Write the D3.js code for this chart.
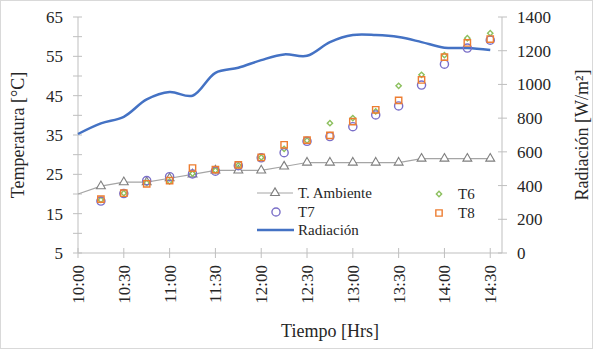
<!DOCTYPE html>
<html>
<head>
<meta charset="utf-8">
<script src="https://d3js.org/d3.v7.min.js"></script>
<style>
  body { margin: 0; background: #fff; }
  svg text { font-family: "Liberation Serif", "Times New Roman", "DejaVu Serif", serif !important; }
</style>
</head>
<body>
<div id="chart"></div>
<script>
// Data
var times = ["10:15","10:30","10:45","11:00","11:15","11:30","11:45","12:00","12:15",
             "12:30","12:45","13:00","13:15","13:30","13:45","14:00","14:15","14:30"];
var ambTimes = ["10:00"].concat(times);
var ambiente = [20, 22, 23, 23, 24, 25, 26, 26, 26, 27, 28, 28, 28, 28, 28, 29, 29, 29, 29];
var t6 = [18.5, 20.2, 22.8, 23.2, 25.2, 26.0, 27.3, 29.3, 31.5, 33.6, 38.0, 39.3, 41.0, 47.5, 50.3, 55.3, 59.6, 60.9];
var t7 = [18.2, 20.1, 23.4, 24.4, 25.1, 25.8, 27.2, 29.2, 30.5, 33.4, 34.6, 37.1, 40.1, 42.4, 47.7, 53.0, 57.1, 59.1];
var t8 = [18.7, 20.2, 22.6, 23.4, 26.6, 26.2, 27.4, 29.3, 32.5, 33.7, 34.9, 38.4, 41.4, 43.8, 49.0, 54.8, 58.4, 59.4];
var radiacion = [706, 769, 808, 911, 955, 933, 1069, 1099, 1144, 1178, 1170, 1251, 1293, 1293, 1281, 1251, 1218, 1216, 1204];
var xTicks = ["10:00","10:30","11:00","11:30","12:00","12:30","13:00","13:30","14:00","14:30"];
var tempTicks = [5, 10, 15, 20, 25, 30, 35, 40, 45, 50, 55, 60, 65];
var tempLabels = [5, 15, 25, 35, 45, 55, 65];
var radTicks = [0, 200, 400, 600, 800, 1000, 1200, 1400];

function mins(s) { var p = s.split(":"); return +p[0] * 60 + +p[1]; }

var W = 593, H = 349;
var svg = d3.select("#chart").append("svg")
  .attr("width", W)
  .attr("height", H);

svg.append("rect")
  .attr("x", 0.5).attr("y", 0.5)
  .attr("width", W - 1).attr("height", H - 1)
  .attr("fill", "#fff")
  .attr("stroke", "#d9d9d9");

var x = d3.scaleLinear().domain([600, 877.7]).range([78, 502]);
var yT = d3.scaleLinear().domain([5, 65]).range([253, 17]);
var yR = d3.scaleLinear().domain([0, 1400]).range([253, 17]);

var axisColor = "#bfbfbf";
var textColor = "#262626";

// Axes lines
svg.append("line").attr("x1", 78).attr("x2", 78).attr("y1", yT(65)).attr("y2", yT(5))
  .attr("stroke", axisColor);
svg.append("line").attr("x1", 502).attr("x2", 502).attr("y1", yR(1400)).attr("y2", yR(0))
  .attr("stroke", axisColor);
svg.append("line").attr("x1", 78).attr("x2", 502).attr("y1", 253).attr("y2", 253)
  .attr("stroke", axisColor);

// Left axis
tempTicks.forEach(function(t) {
  svg.append("line").attr("x1", 73).attr("x2", 82).attr("y1", yT(t)).attr("y2", yT(t))
    .attr("stroke", axisColor);
});
tempLabels.forEach(function(t) {
  svg.append("text")
    .attr("x", 63).attr("y", yT(t)).attr("dy", "0.35em")
    .attr("text-anchor", "end")
    .attr("font-size", "17px")
    .attr("fill", textColor)
    .text(t);
});

// Right axis
radTicks.forEach(function(t) {
  svg.append("line").attr("x1", 498).attr("x2", 507).attr("y1", yR(t)).attr("y2", yR(t))
    .attr("stroke", axisColor);
  svg.append("text")
    .attr("x", 517).attr("y", yR(t)).attr("dy", "0.35em")
    .attr("font-size", "17px")
    .attr("fill", textColor)
    .text(t);
});

// Bottom axis
xTicks.forEach(function(t) {
  var px = x(mins(t));
  svg.append("line").attr("x1", px).attr("x2", px).attr("y1", 248).attr("y2", 258)
    .attr("stroke", axisColor);
  svg.append("text")
    .attr("transform", "translate(" + px + ",253) rotate(-90)")
    .attr("x", -12).attr("dy", "0.35em")
    .attr("text-anchor", "end")
    .attr("font-size", "17px")
    .attr("fill", textColor)
    .text(t);
});

// Axis titles
svg.append("text")
  .attr("transform", "translate(18,135) rotate(-90)")
  .attr("text-anchor", "middle").attr("dy", "0.35em")
  .attr("font-size", "18px")
  .attr("fill", textColor)
  .text("Temperatura [°C]");
svg.append("text")
  .attr("transform", "translate(582,135) rotate(-90)")
  .attr("text-anchor", "middle").attr("dy", "0.35em")
  .attr("font-size", "18px")
  .attr("fill", textColor)
  .text("Radiación [W/m²]");
svg.append("text")
  .attr("x", 330).attr("y", 337)
  .attr("text-anchor", "middle")
  .attr("font-size", "18px")
  .attr("fill", textColor)
  .text("Tiempo [Hrs]");

// Radiation line
var radLine = d3.line()
  .x(function(d, i) { return x(mins(ambTimes[i])); })
  .y(function(d) { return yR(d); })
  .curve(d3.curveCatmullRom.alpha(0.5));
svg.append("path").datum(radiacion)
  .attr("d", radLine)
  .attr("fill", "none")
  .attr("stroke", "#4472c4")
  .attr("stroke-width", 2.5);

// Ambient line and triangles
var ambLine = d3.line()
  .x(function(d, i) { return x(mins(ambTimes[i])); })
  .y(function(d) { return yT(d); });
svg.append("path").datum(ambiente)
  .attr("d", ambLine)
  .attr("fill", "none")
  .attr("stroke", "#a5a5a5")
  .attr("stroke-width", 1.2);

var tri = d3.symbol().type(d3.symbolTriangle).size(34);
var circ = d3.symbol().type(d3.symbolCircle).size(52);
var sq = d3.symbol().type(d3.symbolSquare).size(40);
var dia = d3.symbol().type(d3.symbolSquare).size(14);

svg.selectAll(".amb").data(ambiente.slice(1)).enter().append("path")
  .attr("transform", function(d, i) { return "translate(" + x(mins(times[i])) + "," + yT(d) + ")"; })
  .attr("d", tri)
  .attr("fill", "#fff")
  .attr("stroke", "#7f7f7f")
  .attr("stroke-width", 1.1);

function scatter(vals, sym, color, rot) {
  svg.append("g").selectAll("path").data(vals).enter().append("path")
    .attr("transform", function(d, i) {
      return "translate(" + x(mins(times[i])) + "," + yT(d) + ") rotate(" + rot + ")";
    })
    .attr("d", sym)
    .attr("fill", "none")
    .attr("stroke", color)
    .attr("stroke-width", 1.4);
}
scatter(t6, dia, "#8dc05f", 45);
scatter(t7, circ, "#7a6fc8", 0);
scatter(t8, sq, "#ed7d31", 0);

// Legend
var lg = svg.append("g");
function lgText(xx, yy, s) {
  lg.append("text").attr("x", xx).attr("y", yy).attr("dy", "0.35em")
    .attr("font-size", "15px").attr("fill", textColor).text(s);
}
lg.append("line").attr("x1", 257).attr("x2", 293).attr("y1", 193).attr("y2", 193)
  .attr("stroke", "#a5a5a5").attr("stroke-width", 1.2);
lg.append("path").attr("transform", "translate(275,193)").attr("d", tri)
  .attr("fill", "#fff").attr("stroke", "#7f7f7f").attr("stroke-width", 1.1);
lgText(298, 193, "T. Ambiente");

lg.append("path").attr("transform", "translate(276,212)").attr("d", circ)
  .attr("fill", "none").attr("stroke", "#7a6fc8").attr("stroke-width", 1.4);
lgText(298, 212, "T7");

lg.append("line").attr("x1", 257).attr("x2", 294).attr("y1", 230).attr("y2", 230)
  .attr("stroke", "#4472c4").attr("stroke-width", 2.5);
lgText(298, 230, "Radiación");

lg.append("path").attr("transform", "translate(439,194) rotate(45)").attr("d", dia)
  .attr("fill", "none").attr("stroke", "#8dc05f").attr("stroke-width", 1.4);
lgText(458, 194, "T6");

lg.append("path").attr("transform", "translate(439,213)").attr("d", sq)
  .attr("fill", "none").attr("stroke", "#ed7d31").attr("stroke-width", 1.4);
lgText(458, 213, "T8");
</script>
</body>
</html>
